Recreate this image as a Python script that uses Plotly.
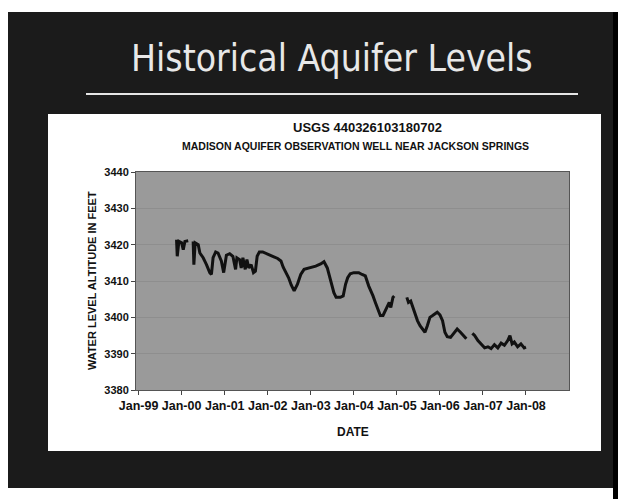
import plotly.graph_objects as go

# ---------------- data ----------------
dates = [
    "1999-11-19", "1999-11-25", "1999-12-09", "2000-01-01", "2000-01-15", "2000-01-29", "2000-02-26",
    "2000-03-10",
    "2000-04-08", "2000-04-14", "2000-04-25", "2000-05-21", "2000-06-04", "2000-07-02", "2000-07-30",
    "2000-08-27", "2000-09-10", "2000-09-24", "2000-10-16", "2000-11-05", "2000-12-03", "2000-12-23",
    "2001-01-15", "2001-02-12", "2001-03-11", "2001-04-03", "2001-04-14", "2001-05-07", "2001-05-21",
    "2001-06-04", "2001-06-24", "2001-07-08", "2001-07-24", "2001-08-13", "2001-09-02", "2001-09-18",
    "2001-10-03", "2001-10-22", "2001-11-19", "2002-01-01", "2002-02-12", "2002-03-26", "2002-04-23",
    "2002-05-12", "2002-06-04", "2002-06-27", "2002-07-19", "2002-08-13", "2002-09-10", "2002-10-08",
    "2002-11-05", "2003-01-01", "2003-02-12", "2003-03-26", "2003-04-23", "2003-05-21", "2003-06-18",
    "2003-07-16", "2003-08-04", "2003-09-09", "2003-10-03", "2003-10-23", "2003-11-10", "2003-12-02",
    "2004-01-01", "2004-02-12", "2004-03-11", "2004-04-08", "2004-05-07", "2004-05-21", "2004-06-12",
    "2004-07-02", "2004-07-22", "2004-08-13", "2004-09-05", "2004-09-24", "2004-10-14", "2004-10-28",
    "2004-11-10", "2004-11-28", "2004-12-09",
    "2005-01-15",
    "2005-03-26", "2005-04-09", "2005-04-28", "2005-05-15", "2005-06-04", "2005-06-24", "2005-07-16",
    "2005-08-08", "2005-08-27", "2005-09-16", "2005-10-08", "2005-10-31", "2005-11-19", "2005-12-09",
    "2006-01-01", "2006-01-23", "2006-02-12", "2006-03-04", "2006-04-01", "2006-04-28", "2006-05-27",
    "2006-06-24", "2006-07-22", "2006-08-13",
    "2006-09-01",
    "2006-10-03", "2006-10-22", "2006-11-19", "2006-12-17", "2007-01-15", "2007-02-12", "2007-03-11",
    "2007-04-08", "2007-05-07", "2007-06-04", "2007-07-02", "2007-07-30", "2007-08-18", "2007-09-05",
    "2007-09-24", "2007-10-22", "2007-11-19", "2007-12-17", "2008-01-01",
]
levels = [
    3421.4, 3416.8, 3420.9, 3420.5, 3418.6, 3420.9, 3421.1,
    None,
    3420.9, 3414.5, 3420.5, 3420.0, 3417.7, 3416.4, 3414.5,
    3412.3, 3411.8, 3416.4, 3418.0, 3417.7, 3415.5, 3412.3,
    3417.1, 3417.5, 3416.8, 3413.2, 3416.4, 3415.9, 3413.6,
    3416.4, 3413.2, 3415.9, 3413.6, 3414.5, 3412.3, 3412.7,
    3416.8, 3418.0, 3418.0, 3417.5, 3416.8, 3416.2, 3415.5,
    3413.8, 3412.3, 3410.9, 3408.9, 3407.3, 3409.1, 3411.8,
    3413.2, 3413.6, 3414.1, 3414.7, 3415.3, 3413.6, 3410.0,
    3406.8, 3405.5, 3405.5, 3405.9, 3409.1, 3410.9, 3412.0,
    3412.3, 3412.3, 3411.8, 3411.4, 3408.6, 3407.7, 3405.9,
    3404.1, 3402.3, 3400.5, 3400.5, 3401.8, 3402.7, 3404.1,
    3402.7, 3405.5, 3405.9,
    None,
    3405.5, 3404.1, 3404.5, 3402.7, 3400.9, 3399.1, 3397.7,
    3396.8, 3395.9, 3397.7, 3400.0, 3400.5, 3400.9, 3401.4,
    3400.7, 3399.1, 3395.9, 3394.7, 3394.5, 3395.5, 3396.8,
    3395.9, 3395.0, 3394.1,
    None,
    3395.6, 3395.0, 3393.6, 3392.7, 3391.6, 3391.9, 3391.4,
    3392.5, 3391.6, 3392.9, 3392.3, 3393.6, 3395.0, 3392.7,
    3393.2, 3391.9, 3392.7, 3391.6, 3391.8,
]

x_tick_dates = ["1999-01-01", "2000-01-01", "2001-01-01", "2002-01-01", "2003-01-01",
                "2004-01-01", "2005-01-01", "2006-01-01", "2007-01-01", "2008-01-01"]
x_tick_labels = ["Jan-99", "Jan-00", "Jan-01", "Jan-02", "Jan-03",
                 "Jan-04", "Jan-05", "Jan-06", "Jan-07", "Jan-08"]
y_ticks = [3380, 3390, 3400, 3410, 3420, 3430, 3440]

slide_title = "Historical Aquifer Levels"
chart_title = "USGS 440326103180702"
chart_subtitle = "MADISON AQUIFER OBSERVATION WELL NEAR JACKSON SPRINGS"
x_title = "DATE"
y_title = "WATER LEVEL ALTITUDE IN FEET"

# ---------------- layout geometry (page pixels) ----------------
PAGE_W, PAGE_H = 626, 499
OFF = 8                      # default body margin of the page
FIG_W, FIG_H = PAGE_W - OFF, PAGE_H - OFF
L, R, T, B = 136, 569, 172, 390   # plot area in page pixels
PW, PH = R - L, B - T


def X(px):
    return (px - L) / PW


def Y(py):
    return (B - py) / PH


def rect(x0, y0, x1, y1, color):
    return dict(type="rect", xref="paper", yref="paper", layer="below",
                x0=X(x0), x1=X(x1), y0=Y(y1), y1=Y(y0),
                fillcolor=color, line=dict(width=0))


shapes = [
    rect(7, 12, 614, 488, "#1b1b1b"),      # slide background
    rect(613, 12, 630, 503, "#000000"),    # right black strip
    rect(48, 114, 601, 451, "#ffffff"),    # chart panel
    rect(L, T, R, B, "#9a9a9a"),           # plot area
    dict(type="line", xref="paper", yref="paper", layer="below",
         x0=X(86), x1=X(578), y0=Y(94), y1=Y(94),
         line=dict(color="#e6e6e6", width=2)),
]

bold = dict(family="Liberation Sans, Arial, sans-serif", color="#111111", weight="bold")

annotations = [
    dict(text=slide_title, xref="paper", yref="paper", x=X(332), y=Y(58),
         xanchor="center", yanchor="middle", showarrow=False,
         font=dict(family="DejaVu Sans Condensed, DejaVu Sans, sans-serif", size=37, color="#e8e8e8")),
    dict(text=chart_title, xref="paper", yref="paper", x=X(367), y=Y(127),
         xanchor="center", yanchor="middle", showarrow=False, font=dict(bold, size=13)),
    dict(text=chart_subtitle, xref="paper", yref="paper", x=X(355), y=Y(146),
         xanchor="center", yanchor="middle", showarrow=False, font=dict(bold, size=10.5)),
    dict(text=x_title, xref="paper", yref="paper", x=X(353), y=Y(432),
         xanchor="center", yanchor="middle", showarrow=False, font=dict(bold, size=12)),
    dict(text=y_title, xref="paper", yref="paper", x=X(92), y=Y(281), textangle=-90,
         xanchor="center", yanchor="middle", showarrow=False, font=dict(bold, size=11)),
]

fig = go.Figure()
fig.add_trace(go.Scatter(x=dates, y=levels, mode="lines", connectgaps=False,
                         line=dict(color="#111111", width=3), hoverinfo="skip"))

fig.update_layout(
    width=FIG_W, height=FIG_H,
    margin=dict(l=L - OFF, r=PAGE_W - R, t=T - OFF, b=PAGE_H - B, pad=0),
    paper_bgcolor="#ffffff",
    plot_bgcolor="rgba(0,0,0,0)",
    showlegend=False,
    shapes=shapes,
    annotations=annotations,
    xaxis=dict(
        type="date", range=["1998-12-10", "2008-12-31"],
        tickvals=x_tick_dates, ticktext=x_tick_labels,
        ticks="outside", ticklen=4, tickcolor="#444444",
        showgrid=False, zeroline=False,
        showline=True, linecolor="#555555", linewidth=1, mirror=True,
        tickfont=dict(bold, size=12.5),
    ),
    yaxis=dict(
        range=[3380, 3440], tickvals=y_ticks,
        ticks="outside", ticklen=4, tickcolor="#444444",
        showgrid=True, gridcolor="#8e8e8e", gridwidth=1, zeroline=False,
        showline=True, linecolor="#555555", linewidth=1, mirror=True,
        tickfont=dict(bold, size=11),
    ),
)

fig.write_html("out.html")
